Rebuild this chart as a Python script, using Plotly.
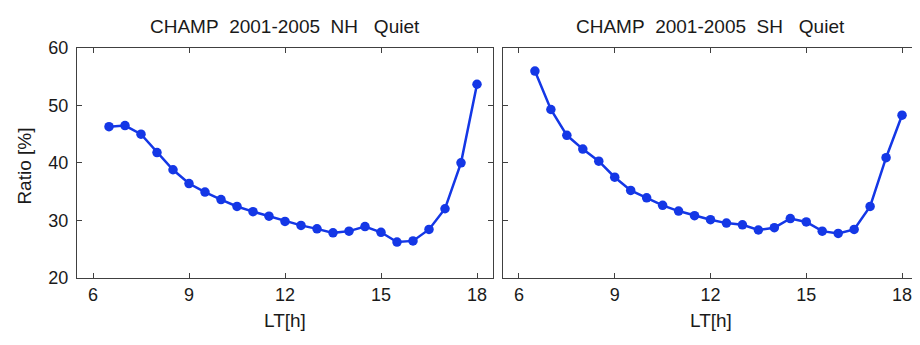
import plotly.graph_objects as go
from plotly.subplots import make_subplots

lt = [6.5, 7, 7.5, 8, 8.5, 9, 9.5, 10, 10.5, 11, 11.5, 12, 12.5, 13, 13.5, 14,
      14.5, 15, 15.5, 16, 16.5, 17, 17.5, 18]
ratio_nh = [46.3, 46.5, 45.0, 41.8, 38.8, 36.4, 34.9, 33.6, 32.4, 31.5, 30.7, 29.8,
            29.1, 28.5, 27.8, 28.1, 28.9, 27.9, 26.2, 26.4, 28.4, 32.0, 40.0, 53.7]
ratio_sh = [56.0, 49.3, 44.8, 42.4, 40.3, 37.5, 35.2, 33.9, 32.6, 31.6, 30.8, 30.1,
            29.5, 29.2, 28.3, 28.7, 30.3, 29.7, 28.1, 27.7, 28.4, 32.4, 40.9, 48.3]
NB = "\u00a0"
titles = ["CHAMP" + NB * 2 + "2001-2005" + NB * 2 + "NH" + NB * 3 + "Quiet",
          "CHAMP" + NB * 2 + "2001-2005" + NB * 2 + "SH" + NB * 3 + "Quiet"]
x_ticks = [6, 9, 12, 15, 18]
y_ticks = [20, 30, 40, 50, 60]

# the page body adds an 8px margin, so the figure is drawn 8px in from the window edge
OFF = 8
W, H = 920 - OFF, 345 - OFF
color = "#1437E6"
font = "Liberation Sans, Arial, sans-serif"
tcol = "#1a1a1a"


def px(x):
    return (x - OFF) / W


def py(y):
    return (H - (y - OFF)) / H


fig = make_subplots(rows=1, cols=2)
for i, ys in enumerate([ratio_nh, ratio_sh]):
    fig.add_trace(go.Scatter(x=lt, y=ys, mode="lines+markers",
                             line=dict(color=color, width=2.5),
                             marker=dict(color=color, size=9.5),
                             showlegend=False), row=1, col=i + 1)

ydom = [py(284), py(40)]
doms = [[px(77), px(493)], [px(503), px(918)]]
axstyle = dict(showgrid=False, zeroline=False, showline=True, linecolor="#404040",
               linewidth=1.2, mirror="ticks", ticks="inside", ticklen=5,
               tickcolor="#404040", tickfont=dict(family=font, size=18, color=tcol))
for i in range(2):
    xa = "xaxis" if i == 0 else "xaxis2"
    ya = "yaxis" if i == 0 else "yaxis2"
    fig.layout[xa].update(domain=doms[i], range=[5.5, 18.5], tickvals=x_ticks,
                          ticklabelstandoff=1, **axstyle)
    fig.layout[ya].update(domain=ydom, range=[20, 60], tickvals=y_ticks,
                          showticklabels=(i == 0), ticklabelstandoff=4, **axstyle)
    cx = (doms[i][0] + doms[i][1]) / 2
    fig.add_annotation(text=titles[i], x=cx, y=py(17), xref="paper", yref="paper",
                       xanchor="center", yanchor="middle", showarrow=False,
                       font=dict(family=font, size=19, color=tcol))
    fig.add_annotation(text="LT[h]", x=cx, y=py(330), xref="paper", yref="paper",
                       xanchor="center", yanchor="middle", showarrow=False,
                       font=dict(family=font, size=19, color=tcol))

fig.add_annotation(text="Ratio [%]", x=px(25), y=py(166), xref="paper", yref="paper",
                   xanchor="center", yanchor="middle", textangle=-90, showarrow=False,
                   font=dict(family=font, size=19, color=tcol))

fig.update_layout(width=W, height=H, margin=dict(l=0, r=0, t=0, b=0),
                  plot_bgcolor="white", paper_bgcolor="white")
fig.write_html("out.html")
